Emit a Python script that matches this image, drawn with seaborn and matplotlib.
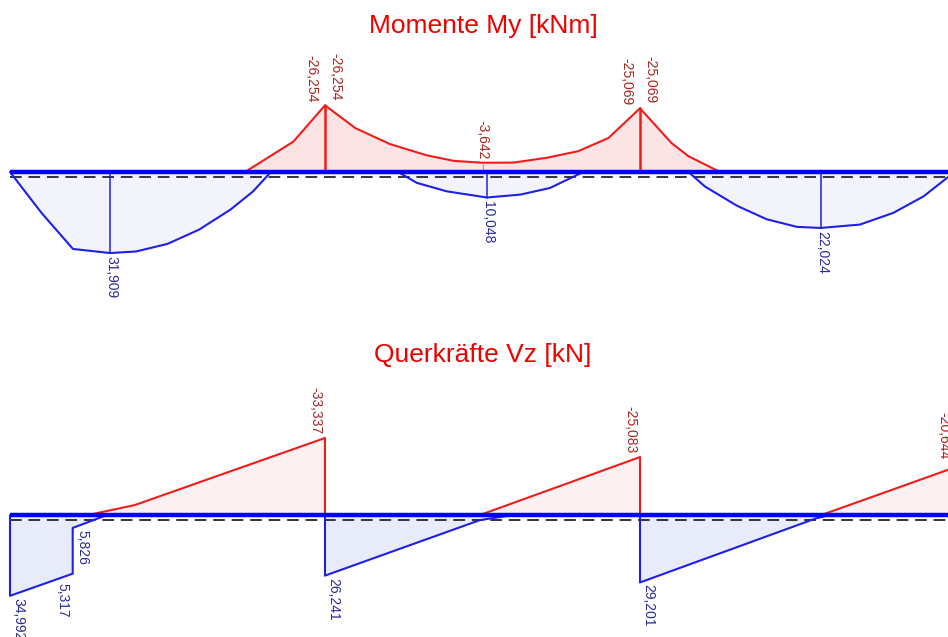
import pandas as pd
import seaborn as sns
import matplotlib.pyplot as plt
from matplotlib.transforms import offset_copy

sns.set_theme(style='white')
plt.rcParams['font.family'] = ['Liberation Sans', 'DejaVu Sans']

# beam: three spans of 5 m, supports at 0 / 5 / 10 / 15
supports = [0, 5, 10, 15]

# bending moment My [kNm], max envelope (sagging, drawn below)
mmax1_x = [0, 0.5, 1.0, 1.59, 2.0, 2.5, 3.0, 3.5, 3.86, 4.14]
mmax1_y = [0, 16.1, 30.3, 31.909, 31.3, 28.3, 22.7, 14.8, 7.6, 0]
mmax2_x = [6.16, 6.46, 6.93, 7.57, 8.1, 8.57, 9.1]
mmax2_y = [0, 4.3, 7.6, 10.048, 8.9, 6.3, 0]
mmax3_x = [10.77, 11.03, 11.54, 12.01, 12.49, 12.87, 13.49, 14.02, 14.5, 14.87, 15.0]
mmax3_y = [0, 5.7, 13.3, 18.6, 21.6, 22.024, 20.7, 16.1, 9.6, 2.4, 0]
# min envelope (hogging, drawn above)
mmin_x = [3.73, 4.5, 5.0, 5.48, 6.03, 6.61, 7.04, 7.5, 7.99, 8.52, 9.02, 9.5, 10.0, 10.5, 10.77, 11.27]
mmin_y = [0, -12.0, -26.254, -17.3, -11.0, -6.6, -4.4, -3.642, -3.7, -5.6, -8.2, -13.4, -25.069, -11.4, -6.2, 0]

# shear force Vz [kN]
vmax1_x = [0, 0, 0.995, 0.995, 1.54]
vmax1_y = [0, 34.992, 25.4, 5.6, 0]
vmax2_x = [5, 5, 7.46, 7.99]
vmax2_y = [0, 26.241, 2.2, 0]
vmax3_x = [10, 10, 12.8, 13.02]
vmax3_y = [0, 29.201, 1.4, 0]
vmin1_x = [1.24, 1.98, 5, 5]
vmin1_y = [0, -4.3, -33.337, 0]
vmin2_x = [7.46, 10, 10]
vmin2_y = [0, -25.083, 0]
vmin3_x = [12.88, 15]
vmin3_y = [0, -20.644]

RED = '#ee1c1c'
BLUE = '#1f1fe6'
RED_TXT = '#a8241f'
BLUE_TXT = '#2a2a96'

W, H = 948, 637
fig = plt.figure(figsize=(W / 100, H / 100), dpi=100)

PX_M = 63.0   # px per metre
X0 = 10       # px of first support
SPLIT = 318   # px row separating the two diagrams


def make_ax(top_px, bot_px, beam_px, scale):
    ax = fig.add_axes([0, 1 - bot_px / H, 1, (bot_px - top_px) / H])
    ax.set_xlim(-X0 / PX_M, (W - X0) / PX_M)
    ax.set_ylim((bot_px - beam_px) / scale, (top_px - beam_px) / scale)
    ax.axis('off')
    return ax


def curve(ax, x, y, color, fill, lw=1.5):
    df = pd.DataFrame({'x': x, 'y': y})
    ax.fill_between(df.x, df.y, 0, color=fill, lw=0, zorder=1)
    sns.lineplot(data=df, x='x', y='y', ax=ax, color=color, lw=lw,
                 sort=False, estimator=None, zorder=3)


def tag(ax, x, y, txt, color, ha, va, dx=0, dy=0):
    ax.annotate(txt, (x, y), xytext=(dx, dy), textcoords='offset pixels',
                rotation=270, ha=ha, va=va, color=color, fontsize=10,
                annotation_clip=False, zorder=5)


def beam(ax):
    ax.plot([0, supports[-1] + 1], [0, 0], color='#0000ff', lw=3.2, zorder=4,
            solid_capstyle='butt')
    dash = offset_copy(ax.transData, fig=fig, x=0, y=-5, units='dots')
    ax.plot([0, supports[-1] + 1], [0, 0], color='#333333', lw=1.4,
            dashes=(6, 3.5), transform=dash, zorder=2)


def fmt(v):
    return f'{v:.3f}'.replace('.', ',')


# ---------- moments ----------
axm = make_ax(0, SPLIT, 172, 2.54)
curve(axm, mmin_x, mmin_y, RED, '#fde4e4')
for xs, ys in [(mmax1_x, mmax1_y), (mmax2_x, mmax2_y), (mmax3_x, mmax3_y)]:
    curve(axm, xs, ys, BLUE, '#f3f4fb')
    i = ys.index(max(ys))
    axm.plot([xs[i], xs[i]], [0, ys[i]], color=BLUE, lw=1.1, zorder=3)
    tag(axm, xs[i], ys[i], fmt(ys[i]), BLUE_TXT, 'center', 'top', 1, -3)
for s in supports[1:3]:
    i = mmin_x.index(s)
    axm.plot([s, s], [0, mmin_y[i]], color=RED, lw=1.8, zorder=3)
    tag(axm, s, mmin_y[i], fmt(mmin_y[i]), RED_TXT, 'right', 'bottom', -7, 3)
    tag(axm, s, mmin_y[i], fmt(mmin_y[i]), RED_TXT, 'left', 'bottom', 3, 5)
# smallest hogging moment in the middle span
inner = [j for j in range(len(mmin_x)) if supports[1] < mmin_x[j] < supports[2]]
mid = max(inner, key=lambda j: mmin_y[j])
axm.plot([mmin_x[mid]] * 2, [0, mmin_y[mid]], color='#f08a8a', lw=0.9, zorder=3)
tag(axm, mmin_x[mid], mmin_y[mid], fmt(mmin_y[mid]), RED_TXT, 'center', 'bottom', 0, 3)
beam(axm)
fig.text(483 / W, 1 - 26 / H, 'Momente My [kNm]', color='#ee0000',
         fontsize=19, ha='center', va='center')

# ---------- shear ----------
axv = make_ax(SPLIT, H, 515, 2.31)
for xs, ys in [(vmin1_x, vmin1_y), (vmin2_x, vmin2_y), (vmin3_x, vmin3_y)]:
    curve(axv, xs, ys, RED, '#fdf0f0')
for xs, ys in [(vmax1_x, vmax1_y), (vmax2_x, vmax2_y), (vmax3_x, vmax3_y)]:
    curve(axv, xs, ys, BLUE, '#e8ecfa')

tag(axv, vmax1_x[1], vmax1_y[1], '34,992', BLUE_TXT, 'left', 'top', 1, -2)
tag(axv, vmax1_x[2], vmax1_y[2], '5,317', BLUE_TXT, 'right', 'top', -3, -9)
tag(axv, vmax1_x[3], vmax1_y[3], '5,826', BLUE_TXT, 'left', 'top', 3, -2)
tag(axv, vmax2_x[1], vmax2_y[1], fmt(vmax2_y[1]), BLUE_TXT, 'left', 'top', 1, -2)
tag(axv, vmax3_x[1], vmax3_y[1], fmt(vmax3_y[1]), BLUE_TXT, 'left', 'top', 1, -2)
tag(axv, vmin1_x[2], vmin1_y[2], fmt(vmin1_y[2]), RED_TXT, 'right', 'bottom', -3, 4)
tag(axv, vmin2_x[1], vmin2_y[1], fmt(vmin2_y[1]), RED_TXT, 'right', 'bottom', -3, 4)
tag(axv, vmin3_x[1], vmin3_y[1], fmt(vmin3_y[1]), RED_TXT, 'right', 'bottom', -5, 8)
beam(axv)
fig.text(483 / W, 1 - 355 / H, 'Querkräfte Vz [kN]', color='#ee0000',
         fontsize=19, ha='center', va='center')

fig.savefig('out.png', dpi=100)
